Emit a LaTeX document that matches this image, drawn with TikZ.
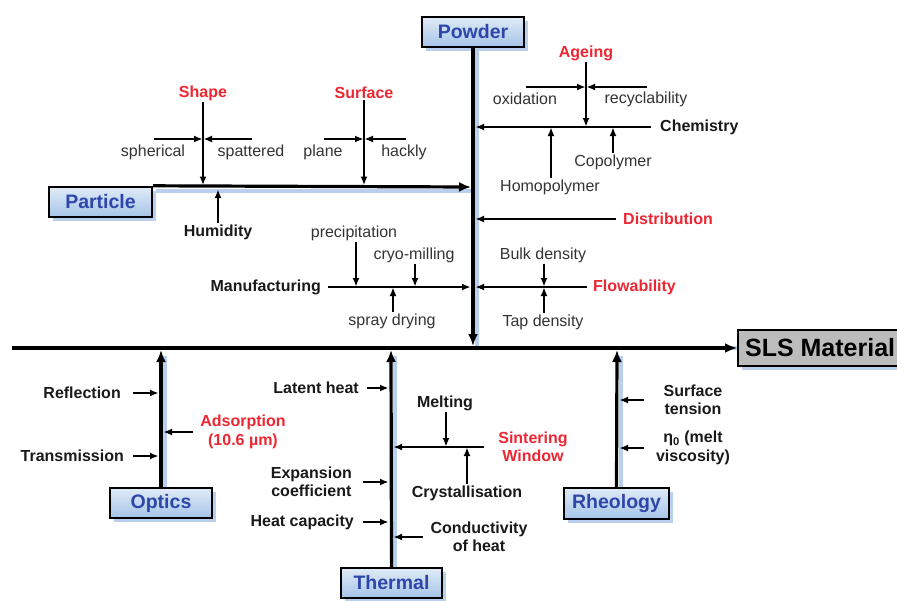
\documentclass[tikz,border=0pt]{standalone}
\usepackage{fontspec}
\setmainfont{Liberation Sans}
\usetikzlibrary{arrows.meta,shadows,positioning}

\definecolor{boxblue}{RGB}{165,196,232}
\definecolor{titleblue}{RGB}{46,70,170}
\definecolor{catred}{RGB}{238,38,50}
\definecolor{shade}{RGB}{185,207,238}
\definecolor{slsgray}{RGB}{188,188,188}

\begin{document}
\begin{tikzpicture}[x=1pt,y=-1pt,
    spine/.style={line width=3.2pt, -{Latex[length=12pt,width=10pt]}},
    spineshadow/.style={draw=shade, line width=3.5pt, xshift=4pt, yshift=-4pt},
    branch/.style={line width=1.5pt, -{Latex[length=8.5pt,width=7pt]}, shorten >=0.5pt},
    lbl/.style={font=\fontsize{16}{18}\selectfont, text=black!80, inner sep=1pt},
    blbl/.style={font=\fontsize{16}{18.5}\selectfont\bfseries, text=black!90, inner sep=1pt},
    cat/.style={blbl, text=catred},
    box/.style={draw, line width=2.4pt, top color=boxblue!35, bottom color=boxblue,
        text=titleblue, font=\fontsize{19.5}{22}\selectfont\bfseries,
        minimum height=30pt, inner sep=0pt,
        drop shadow={shadow xshift=4pt, shadow yshift=-4pt, fill=shade, opacity=1}}]
    \useasboundingbox (0,0) rectangle (897,600);

    % Hauptachse
    \node[draw, line width=2.2pt, fill=slsgray, anchor=west, minimum height=36pt,
        inner xsep=7pt, font=\fontsize{25}{28}\selectfont\bfseries,
        drop shadow={shadow xshift=4pt, shadow yshift=-4pt, fill=shade, opacity=1}]
        (sls) at (737,348) {SLS Material};
    \coordinate (start) at (12,348);
    % Schatten der Achsen
    \draw[spineshadow] (start) -- (sls.west);
    \draw[spineshadow] (473,47) -- (473,346);
    \draw[spineshadow] (152,187) -- (471,187);
    \draw[spineshadow] (161,488) -- (161,352);
    \draw[spineshadow] (391,568) -- (391,352);
    \draw[spineshadow] (617,488) -- (617,352);
    \draw[spine] (start) -- (sls.west);

    % Powder
    \node[box, minimum width=102pt] (powder) at (473,32) {Powder};
    \coordinate (powderend) at (473,346);
    \draw[spine] (powder.south) -- (powderend);

    % Particle
    \node[box, minimum width=103pt] (particle) at (100.5,202) {Particle};
    \coordinate (particleend) at (471,187);
    \draw[spine] (particle.north east) -- (particleend);

    % Shape
    \node[cat] (shape) at (203,93) {Shape};
    \coordinate (shapej) at (203,185.5);
    \coordinate (shapem) at (203,139);
    \coordinate (spherical0) at (154,139);
    \coordinate (spattered0) at (252,139);
    \draw[branch] (shape.south) -- (shapej);
    \draw[branch] (spherical0) -- (shapem);
    \draw[branch] (spattered0) -- (shapem);
    \node[lbl] (spherical) at (153,152) {spherical};
    \node[lbl] (spattered) at (251,152) {spattered};

    % Surface
    \node[cat] (surface) at (364,93) {Surface};
    \coordinate (surfacej) at (364,185.5);
    \coordinate (surfacem) at (364,139);
    \coordinate (plane0) at (324,139);
    \coordinate (hackly0) at (406,139);
    \draw[branch] (surface.south) -- (surfacej);
    \draw[branch] (plane0) -- (surfacem);
    \draw[branch] (hackly0) -- (surfacem);
    \node[lbl] (plane) at (323,152) {plane};
    \node[lbl] (hackly) at (404,152) {hackly};

    % Humidity
    \node[blbl] (humidity) at (218,232) {Humidity};
    \coordinate (humidityj) at (218,189);
    \draw[branch] (humidity.north) -- (humidityj);

    % Manufacturing
    \node[blbl, anchor=east] (manufacturing) at (322,287) {Manufacturing};
    \coordinate (manu0) at (328,287);
    \coordinate (manuend) at (471,287);
    \draw[branch] (manu0) -- (manuend);
    \node[lbl] (precipitation) at (354,233) {precipitation};
    \node[lbl] (cryo) at (414,255) {cryo-milling};
    \node[lbl] (spray) at (392,321) {spray drying};
    \coordinate (precj) at (356,287);
    \coordinate (cryoj) at (415,287);
    \coordinate (sprayj) at (393,287);
    \draw[branch] (precipitation.south -| precj) -- (precj);
    \draw[branch] (cryo.south -| cryoj) -- (cryoj);
    \draw[branch] (spray.north -| sprayj) -- (sprayj);

    % Chemistry
    \node[blbl, anchor=west] (chemistry) at (659,127) {Chemistry};
    \coordinate (chem0) at (651,127);
    \coordinate (chemend) at (475,127);
    \draw[branch] (chem0) -- (chemend);

    % Ageing
    \node[cat] (ageing) at (586,53) {Ageing};
    \coordinate (ageingj) at (586,127);
    \coordinate (ageingm) at (586,87);
    \coordinate (oxidation0) at (526,87);
    \coordinate (recycl0) at (647,87);
    \draw[branch] (ageing.south) -- (ageingj);
    \draw[branch] (oxidation0) -- (ageingm);
    \draw[branch] (recycl0) -- (ageingm);
    \node[lbl] (oxidation) at (525,99) {oxidation};
    \node[lbl] (recyclability) at (646,99) {recyclability};

    % Homo- und Copolymer
    \node[lbl] (homopolymer) at (550,187) {Homopolymer};
    \node[lbl] (copolymer) at (613,162) {Copolymer};
    \coordinate (homoj) at (551,127);
    \coordinate (coj) at (613,127);
    \draw[branch] (homopolymer.north -| homoj) -- (homoj);
    \draw[branch] (copolymer.north -| coj) -- (coj);

    % Distribution
    \node[cat, anchor=west] (distribution) at (622,219) {Distribution};
    \coordinate (dist0) at (616,219);
    \coordinate (distend) at (475,219);
    \draw[branch] (dist0) -- (distend);

    % Flowability
    \node[cat, anchor=west] (flowability) at (592,287) {Flowability};
    \coordinate (flow0) at (587,287);
    \coordinate (flowend) at (475,287);
    \draw[branch] (flow0) -- (flowend);
    \node[lbl] (bulk) at (543,255) {Bulk density};
    \node[lbl] (tap) at (543,322) {Tap density};
    \coordinate (flowj) at (544,287);
    \draw[branch] (bulk.south -| flowj) -- (flowj);
    \draw[branch] (tap.north -| flowj) -- (flowj);

    % Optics
    \node[box, minimum width=102pt] (optics) at (161,503) {Optics};
    \coordinate (opticsend) at (161,350);
    \draw[spine] (optics.north) -- (opticsend);
    \node[blbl, anchor=east] (reflection) at (122,393) {Reflection};
    \node[blbl, anchor=east] (transmission) at (125,456) {Transmission};
    \node[cat, align=center] (adsorption) at (243,432) {Adsorption\\(10.6 µm)};
    \coordinate (reflj) at (159,393);
    \coordinate (transj) at (159,456);
    \coordinate (adsj) at (163,432);
    \coordinate (ads0) at (193,432);
    \draw[branch] (reflection.east) ++(11,0) -- (reflj);
    \draw[branch] (transmission.east) ++(8,0) -- (transj);
    \draw[branch] (ads0) -- (adsj);

    % Thermal
    \node[box, minimum width=101pt] (thermal) at (391.5,583) {Thermal};
    \coordinate (thermalend) at (391,350);
    \draw[spine] (thermal.north) -- (thermalend);
    \node[blbl, anchor=east] (latent) at (360,388) {Latent heat};
    \node[blbl, anchor=east, align=center] (expansion) at (353,482) {Expansion\\coefficient};
    \node[blbl, anchor=east] (capacity) at (355,522) {Heat capacity};
    \node[blbl, align=center] (conductivity) at (479,537) {Conductivity\\of heat};
    \coordinate (latentj) at (389,388);
    \coordinate (expj) at (389,482);
    \coordinate (capj) at (389,522);
    \coordinate (condj) at (393,537);
    \coordinate (cond0) at (423,537);
    \draw[branch] (latent.east) ++(7,0) -- (latentj);
    \draw[branch] (expansion.east) ++(10,0) -- (expj);
    \draw[branch] (capacity.east) ++(8,0) -- (capj);
    \draw[branch] (cond0) -- (condj);

    % Sintering Window
    \node[cat, align=center] (sintering) at (533,447) {Sintering\\Window};
    \coordinate (sint0) at (484,447);
    \coordinate (sintend) at (393,447);
    \draw[branch] (sint0) -- (sintend);
    \node[blbl] (melting) at (445,403) {Melting};
    \node[blbl] (crystal) at (467,493) {Crystallisation};
    \coordinate (meltj) at (446,447);
    \coordinate (crystj) at (467,447);
    \draw[branch] (melting.south -| meltj) -- (meltj);
    \draw[branch] (crystal.north -| crystj) -- (crystj);

    % Rheology
    \node[box, minimum width=105pt, minimum height=31pt] (rheology) at (616.5,503.5) {Rheology};
    \coordinate (rheologyend) at (617,350);
    \draw[spine] (rheology.north) -- (rheologyend);
    \node[blbl, align=center] (tension) at (693,400) {Surface\\tension};
    \node[blbl, align=center] (viscosity) at (693,448) {η\textsubscript{0} (melt\\viscosity)};
    \coordinate (tensionj) at (619,400);
    \coordinate (viscj) at (619,448);
    \coordinate (tension0) at (644,400);
    \coordinate (visc0) at (644,448);
    \draw[branch] (tension0) -- (tensionj);
    \draw[branch] (visc0) -- (viscj);
\end{tikzpicture}
\end{document}
